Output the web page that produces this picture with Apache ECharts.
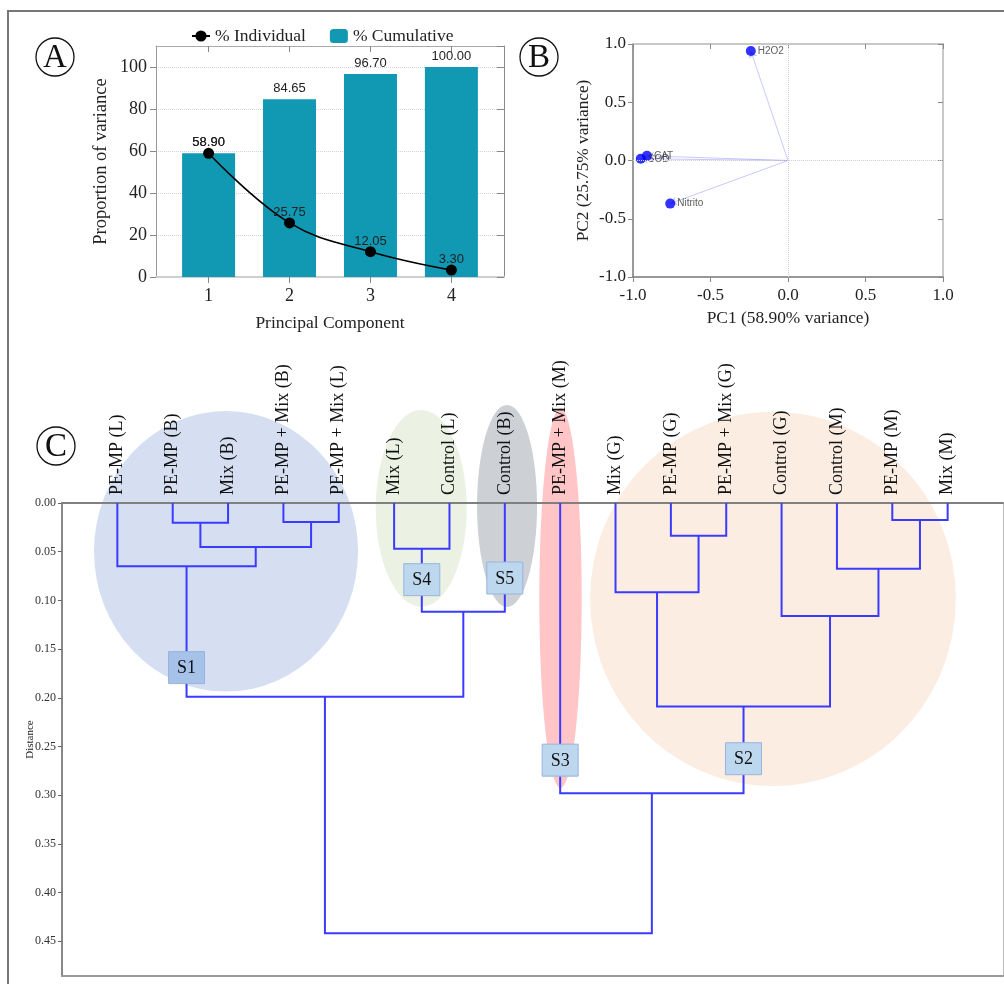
<!DOCTYPE html>
<html>
<head>
<meta charset="utf-8">
<title>PCA and clustering of oxidative stress markers</title>
<script src="https://cdn.jsdelivr.net/npm/echarts@6.0.0/dist/echarts.min.js"></script>
<style>
  html, body { margin: 0; padding: 0; background: #ffffff; }
  #chart { width: 1004px; height: 984px; }
</style>
</head>
<body>
<div id="chart"></div>
<script>
// ---- Panel A: explained variance per principal component ----
const components = [1, 2, 3, 4];
const individualPct = [58.90, 25.75, 12.05, 3.30];
const cumulativePct = [58.90, 84.65, 96.70, 100.00];

// ---- Panel B: variable loadings on PC1 / PC2 ----
const variables = ['H2O2', 'CAT', 'SOD', 'Nitrito'];
const pc1Loadings = [-0.24, -0.91, -0.95, -0.76];
const pc2Loadings = [0.94, 0.04, 0.015, -0.37];

// ---- Panel C: hierarchical clustering (scipy-style linkage) ----
const leafLabels = [
  'PE-MP (L)', 'PE-MP (B)', 'Mix (B)', 'PE-MP + Mix (B)', 'PE-MP + Mix (L)',
  'Mix (L)', 'Control (L)', 'Control (B)', 'PE-MP + Mix (M)', 'Mix (G)',
  'PE-MP (G)', 'PE-MP + Mix (G)', 'Control (G)', 'Control (M)', 'PE-MP (M)', 'Mix (M)'
];
// node ids: 0..15 are leaves, merge k creates node 16 + k
const mergeLeft   = [1, 3, 16, 0, 5, 20, 19, 10, 9, 14, 13, 12, 24, 8, 22];
const mergeRight  = [2, 4, 17, 18, 6, 7, 21, 11, 23, 15, 25, 26, 27, 28, 29];
const mergeHeight = [0.0202, 0.0195, 0.0452, 0.0650, 0.0469, 0.1116, 0.1988,
                     0.0335, 0.0917, 0.0175, 0.0674, 0.1160, 0.2090, 0.2980, 0.4418];

const clusterNames      = ['S1', 'S2', 'S3', 'S4', 'S5'];
const clusterNodes      = [19, 28, 8, 20, 7];
const clusterTagHeight  = [0.169, 0.2625, 0.264, 0.0787, 0.077];

// ---- fonts / styling ----
const SERIF = "'Liberation Serif', 'DejaVu Serif', serif";
const SANS = "'Liberation Sans', Arial, sans-serif";
const LINK_BLUE = '#3b3bff';

// shading behind each cluster, in axis units of panel C
const clusterHalos = [
  { c: [2.963, 0.0496], r: [2.385, 0.1440], color: '#d6dff2' },
  { c: [6.490, 0.0054], r: [0.822, 0.1010], color: '#ebf2e3' },
  { c: [8.040, 0.0030], r: [0.542, 0.1037], color: '#cdd1d6' },
  { c: [9.006, 0.0975], r: [0.383, 0.1950], color: '#ffc5c7' },
  { c: [12.844, 0.0984], r: [3.304, 0.1922], color: '#fcede2' }
];

// dendrogram geometry from the linkage
const nLeaves = leafLabels.length;
const nodeX = leafLabels.map((_, i) => i + 1);
const nodeH = leafLabels.map(() => 0);
const linkData = mergeHeight.map((h, k) => {
  const l = mergeLeft[k], r = mergeRight[k];
  nodeX[nLeaves + k] = (nodeX[l] + nodeX[r]) / 2;
  nodeH[nLeaves + k] = h;
  return [nodeX[l], nodeH[l], nodeX[r], nodeH[r], h];
});
const tagData = clusterNames.map((n, i) => ({ name: n, value: [nodeX[clusterNodes[i]], clusterTagHeight[i]] }));

const chart = echarts.init(document.getElementById('chart'), null, { renderer: 'canvas' });

function panelLetter(letter, cx, cy) {
  return [
    { type: 'circle', shape: { cx: cx, cy: cy, r: 19 }, style: { fill: '#fff', stroke: '#111', lineWidth: 1.3 }, z: 10 },
    { type: 'text', x: cx, y: cy + 1, z: 11,
      style: { text: letter, fontFamily: SERIF, fontSize: 33, fill: '#111', align: 'center', verticalAlign: 'middle' } }
  ];
}

const tickStyle = { color: '#888', width: 1 };

const option = {
  animation: false,
  backgroundColor: '#ffffff',
  graphic: [
    { type: 'polyline', shape: { points: [[1004, 11], [8, 11], [8, 984]] }, style: { stroke: '#777', lineWidth: 2, fill: null } },
    ...panelLetter('A', 55, 57),
    ...panelLetter('B', 539, 57),
    ...panelLetter('C', 56, 446)
  ],
  legend: {
    data: ['% Individual', '% Cumulative'],
    left: 186, top: 22,
    itemWidth: 18, itemHeight: 14, itemGap: 24,
    textStyle: { fontFamily: SERIF, fontSize: 17.5, color: '#222' }
  },
  grid: [
    { left: 156, top: 46, width: 348, height: 231, outerBoundsMode: 'none' },
    { left: 633, top: 44, width: 310, height: 233, outerBoundsMode: 'none' },
    { left: 62, top: 503, width: 941, height: 473, outerBoundsMode: 'none' }
  ],
  xAxis: [
    { // 0: panel A bottom
      type: 'value', gridIndex: 0, min: 0.35, max: 4.65, position: 'bottom',
      name: 'Principal Component', nameLocation: 'middle', nameGap: 37, nameMoveOverlap: false,
      nameTextStyle: { fontFamily: SERIF, fontSize: 17.5, color: '#222' },
      axisLine: { onZero: false, lineStyle: { color: '#cfcfcf', width: 2 } },
      axisTick: { show: true, length: 6, lineStyle: tickStyle, customValues: components },
      axisLabel: { customValues: components, margin: 10, fontFamily: SERIF, fontSize: 18, color: '#222' },
      splitLine: { show: false }
    },
    { // 1: panel A top frame
      type: 'value', gridIndex: 0, min: 0.35, max: 4.65, position: 'top',
      axisLine: { onZero: false, lineStyle: { color: '#aaa', width: 1 } },
      axisTick: { show: true, inside: true, length: 6, lineStyle: tickStyle, customValues: components },
      axisLabel: { show: false }, splitLine: { show: false }
    },
    { // 2: panel B bottom
      type: 'value', gridIndex: 1, min: -1, max: 1, interval: 0.5, position: 'bottom',
      name: 'PC1 (58.90% variance)', nameLocation: 'middle', nameGap: 33, nameMoveOverlap: false,
      nameTextStyle: { fontFamily: SERIF, fontSize: 17.4, color: '#222' },
      axisLine: { onZero: false, lineStyle: { color: '#777', width: 1.5 } },
      axisTick: { length: 5, lineStyle: tickStyle },
      axisLabel: { margin: 10, fontFamily: SERIF, fontSize: 17, color: '#222', formatter: v => v.toFixed(1) },
      splitLine: { show: false }
    },
    { // 3: panel B top frame
      type: 'value', gridIndex: 1, min: -1, max: 1, interval: 0.5, position: 'top',
      axisLine: { onZero: false, lineStyle: { color: '#c8c8c8', width: 2 } },
      axisTick: { inside: true, length: 5, lineStyle: tickStyle },
      axisLabel: { show: false }, splitLine: { show: false }
    },
    { // 4: panel C leaves (distance 0 sits on the top edge)
      type: 'value', gridIndex: 2, min: 0, max: 17, position: 'top', z: 8,
      axisLine: { lineStyle: { color: '#808080', width: 2 } },
      axisTick: { show: false },
      axisLabel: {
        customValues: nodeX.slice(0, nLeaves), rotate: 90, margin: 8,
        fontFamily: SERIF, fontSize: 18, color: '#111',
        formatter: v => leafLabels[Math.round(v) - 1]
      },
      splitLine: { show: false }
    },
    { // 5: panel C bottom frame
      type: 'value', gridIndex: 2, min: 0, max: 17, position: 'bottom',
      axisLine: { onZero: false, lineStyle: { color: '#999', width: 2 } },
      axisTick: { show: false }, axisLabel: { show: false }, splitLine: { show: false }
    }
  ],
  yAxis: [
    { // 0: panel A left
      type: 'value', gridIndex: 0, min: 0, max: 110, interval: 20, position: 'left',
      name: 'Proportion of variance', nameLocation: 'middle', nameGap: 45, nameMoveOverlap: false,
      nameTextStyle: { fontFamily: SERIF, fontSize: 18.5, color: '#222' },
      axisLine: { show: true, onZero: false, lineStyle: { color: '#999', width: 1 } },
      axisTick: { show: true, length: 6, lineStyle: tickStyle },
      axisLabel: { margin: 9, fontFamily: SERIF, fontSize: 18, color: '#222', showMaxLabel: false },
      splitLine: { show: true, lineStyle: { type: 'dotted', color: '#d4d4d4', width: 1 } }
    },
    { // 1: panel A right frame
      type: 'value', gridIndex: 0, min: 0, max: 110, interval: 20, position: 'right',
      axisLine: { show: true, onZero: false, lineStyle: { color: '#888', width: 1 } },
      axisTick: { show: true, inside: true, length: 7, lineStyle: tickStyle },
      axisLabel: { show: false }, splitLine: { show: false }
    },
    { // 2: panel B left
      type: 'value', gridIndex: 1, min: -1, max: 1, interval: 0.5, position: 'left',
      name: 'PC2 (25.75% variance)', nameLocation: 'middle', nameGap: 41, nameMoveOverlap: false,
      nameTextStyle: { fontFamily: SERIF, fontSize: 17.3, color: '#222' },
      axisLine: { show: true, onZero: false, lineStyle: { color: '#777', width: 1.5 } },
      axisTick: { show: true, length: 5, lineStyle: tickStyle },
      axisLabel: { margin: 7, fontFamily: SERIF, fontSize: 17, color: '#222', formatter: v => v.toFixed(1) },
      splitLine: { show: false }
    },
    { // 3: panel B right frame
      type: 'value', gridIndex: 1, min: -1, max: 1, interval: 0.5, position: 'right',
      axisLine: { show: true, onZero: false, lineStyle: { color: '#c8c8c8', width: 2 } },
      axisTick: { show: true, inside: true, length: 5, lineStyle: tickStyle },
      axisLabel: { show: false }, splitLine: { show: false }
    },
    { // 4: panel C distance
      type: 'value', gridIndex: 2, min: 0, max: 0.4856, interval: 0.05, inverse: true, position: 'left',
      name: 'Distance', nameLocation: 'middle', nameGap: 26, nameMoveOverlap: false,
      nameTextStyle: { fontFamily: SERIF, fontSize: 11, color: '#222' },
      axisLine: { show: true, onZero: false, lineStyle: { color: '#888', width: 2 } },
      axisTick: { show: true, length: 4, lineStyle: { color: '#666', width: 1 } },
      axisLabel: { margin: 6, fontFamily: SERIF, fontSize: 12, color: '#333', showMaxLabel: false,
                   formatter: v => v.toFixed(2) },
      splitLine: { show: false }
    },
    { // 5: panel C right frame
      type: 'value', gridIndex: 2, min: 0, max: 0.4856, inverse: true, position: 'right',
      axisLine: { show: true, onZero: false, lineStyle: { color: '#bbb', width: 1 } },
      axisTick: { show: false }, axisLabel: { show: false }, splitLine: { show: false }
    }
  ],
  series: [
    {
      name: '% Cumulative', type: 'bar', xAxisIndex: 0, yAxisIndex: 0,
      data: components.map((c, i) => [c, cumulativePct[i]]),
      barWidth: 53,
      itemStyle: { color: '#1199b4' },
      label: { show: true, position: 'top', distance: 4, fontFamily: SANS, fontSize: 13, color: '#222',
               formatter: p => p.value[1].toFixed(2) },
      z: 2
    },
    {
      name: '% Individual', type: 'line', xAxisIndex: 0, yAxisIndex: 0,
      data: components.map((c, i) => [c, individualPct[i]]),
      smooth: 0.4,
      symbol: 'circle', symbolSize: 11,
      lineStyle: { color: '#000', width: 1.6 },
      itemStyle: { color: '#000' },
      label: { show: true, position: 'top', distance: 0, offset: [0, 1.5], fontFamily: SANS, fontSize: 13, color: '#222',
               formatter: p => p.value[1].toFixed(2) },
      z: 4
    },
    {
      name: 'loadings', type: 'lines', coordinateSystem: 'cartesian2d', xAxisIndex: 2, yAxisIndex: 2,
      data: variables.map((v, i) => ({ coords: [[0, 0], [pc1Loadings[i], pc2Loadings[i]]] })),
      symbol: ['none', 'arrow'], symbolSize: 7,
      lineStyle: { color: 'rgba(110,110,255,0.75)', width: 1, curveness: 0 },
      silent: true, z: 3
    },
    {
      name: 'variables', type: 'scatter', xAxisIndex: 2, yAxisIndex: 2,
      data: variables.map((v, i) => ({ name: v, value: [pc1Loadings[i], pc2Loadings[i]] })),
      symbolSize: 10,
      itemStyle: { color: '#0000ff' },
      label: { show: true, position: 'right', distance: 2, formatter: '{b}', fontFamily: SANS, fontSize: 10, color: '#333' },
      markLine: {
        silent: true, symbol: 'none', label: { show: false },
        lineStyle: { type: 'dotted', color: '#cfcfcf', width: 1 },
        data: [{ xAxis: 0 }, { yAxis: 0 }]
      },
      z: 4
    },
    {
      name: 'halos', type: 'custom', xAxisIndex: 4, yAxisIndex: 4,
      data: clusterHalos.map(h => [h.c[0], h.c[1], h.r[0], h.r[1]]), silent: true, z: 1,
      renderItem: (params, api) => {
        const ctr = api.coord([api.value(0), api.value(1)]);
        const sz = api.size([api.value(2), api.value(3)]);
        const rx = sz[0], ry = sz[1];
        return { type: 'circle', x: ctr[0], y: ctr[1], scaleX: rx / ry, scaleY: 1,
                 shape: { cx: 0, cy: 0, r: ry },
                 style: { fill: clusterHalos[params.dataIndex].color } };
      }
    },
    {
      name: 'links', type: 'custom', xAxisIndex: 4, yAxisIndex: 4,
      data: linkData, silent: true, z: 9,
      renderItem: (params, api) => {
        const a = api.coord([api.value(0), api.value(1)]);
        const b = api.coord([api.value(0), api.value(4)]);
        const c = api.coord([api.value(2), api.value(4)]);
        const d = api.coord([api.value(2), api.value(3)]);
        return { type: 'polyline', shape: { points: [a, b, c, d] },
                 style: { stroke: LINK_BLUE, lineWidth: 2, fill: null } };
      }
    },
    {
      name: 'tags', type: 'custom', xAxisIndex: 4, yAxisIndex: 4,
      data: tagData, silent: true, z: 10,
      renderItem: (params, api) => {
        const p = api.coord([api.value(0), api.value(1)]);
        const isFirst = params.dataIndex === 0;
        return {
          type: 'group', x: p[0], y: p[1],
          children: [
            { type: 'rect', shape: { x: -18, y: -16, width: 36, height: 32 },
              style: { fill: isFirst ? '#a6c2e8' : '#bdd7ee', stroke: '#98b4de', lineWidth: 1 } },
            { type: 'text', style: { text: tagData[params.dataIndex].name, x: 0, y: 1, align: 'center', verticalAlign: 'middle',
                                     fontFamily: SERIF, fontSize: 18, fill: '#111' } }
          ]
        };
      }
    }
  ]
};

chart.setOption(option);
</script>
</body>
</html>
